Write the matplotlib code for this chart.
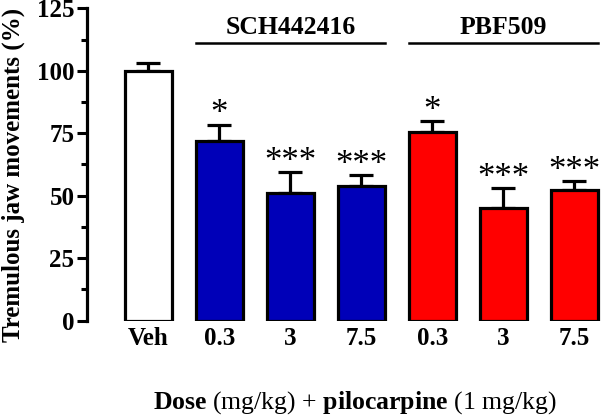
import matplotlib.pyplot as plt
import numpy as np

plt.rcParams['font.family'] = ['Liberation Serif', 'DejaVu Serif']
plt.rcParams['mathtext.fontset'] = 'custom'
plt.rcParams['mathtext.rm'] = 'Liberation Serif'
plt.rcParams['mathtext.bf'] = 'Liberation Serif:bold'

# data
labels = ['Veh', '0.3', '3', '7.5', '0.3', '3', '7.5']
means = [100, 72.0, 50.9, 53.8, 75.3, 45.2, 52.2]
sems = [3.0, 6.4, 8.4, 4.3, 4.4, 7.7, 3.6]
stars = ['', '*', '***', '***', '*', '***', '***']
colors = ['white', '#0000b8', '#0000b8', '#0000b8', '#ff0000', '#ff0000', '#ff0000']
groups = ['SCH442416', 'PBF509']
group_span = [(1, 3), (4, 6)]

fig = plt.figure(figsize=(6.01, 4.18), dpi=100)
ax = fig.add_axes([87 / 601, 97.5 / 418, 1 - 87 / 601, 312.2 / 418])

x = np.arange(len(labels))
ax.bar(x, means, width=0.66, color=colors, edgecolor='black', linewidth=2.3, zorder=2)
ax.errorbar(x, means, yerr=[np.zeros(len(sems)), sems], fmt='none', ecolor='black',
            elinewidth=2.3, capsize=8.3, capthick=2.3, zorder=1)

# significance stars above the error bars
for xi, m, s, st in zip(x, means, sems, stars):
    if st:
        ax.text(xi, m + s + 4.0, st, ha='center', va='center', fontsize=25, clip_on=False)

for name, (a, b) in zip(groups, group_span):
    ax.plot([a - 0.33, b + 0.33], [111, 111], color='black', lw=1.8, clip_on=False)
    ax.text((a + b) / 2, 117.5, name, ha='center', va='center', fontsize=18.5,
            fontweight='bold', clip_on=False)

ax.set_xlim(-0.863, 6.376)
ax.set_ylim(0, 125)
ax.set_yticks([0, 25, 50, 75, 100, 125])
ax.set_yticks(np.arange(12.5, 125, 25), minor=True)
ax.set_xticks(x)
ax.set_xticklabels(labels, fontsize=18, fontweight='bold')
ax.tick_params(axis='x', length=0, pad=5)
ax.tick_params(axis='y', which='major', length=7, width=2.2, labelsize=18, pad=2)
ax.tick_params(axis='y', which='minor', length=4, width=2.2)
for lab in ax.get_yticklabels():
    lab.set_fontweight('bold')

for sp in ['top', 'right', 'bottom']:
    ax.spines[sp].set_visible(False)
ax.spines['left'].set_linewidth(2.3)

ax.set_ylabel('Tremulous jaw movements (%)', fontsize=18, fontweight='bold')
ax.yaxis.set_label_coords(-62 / 514, (320.5 - 175) / 312.2)
fig.text(355 / 601, 1 - 403 / 418,
         r'$\mathbf{Dose}$ (mg/kg) + $\mathbf{pilocarpine}$ (1 mg/kg)',
         ha='center', va='center', fontsize=18.5)

fig.savefig('out.png', dpi=100)
